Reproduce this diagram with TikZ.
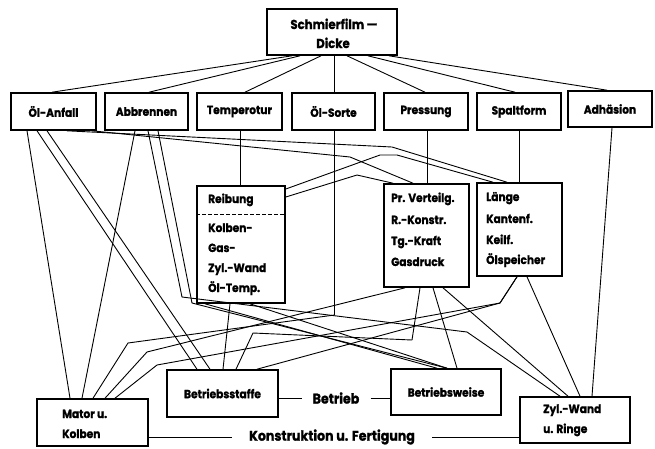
\documentclass[tikz,border=0pt]{standalone}
\usepackage{fontspec}
\setmainfont{Poppins}[FakeStretch=0.9,BoldFeatures={FakeBold=1.2}]
\newcommand\labfont{\bfseries\fontsize{11.8}{13}\selectfont}
\newcommand\topfont{\bfseries\fontsize{13}{14}\selectfont}
\newcommand\bigfont{\bfseries\fontsize{14}{15}\selectfont}
\begin{document}
\begin{tikzpicture}[x=1pt,y=-1pt,
  box/.style={draw,line width=1.6pt,inner sep=0pt,font=\labfont},
  txt/.style={inner sep=0pt,font=\labfont,anchor=base west},
  ctxt/.style={inner sep=0pt,font=\topfont,anchor=base},
  conn/.style={line width=0.9pt,line join=round}]
\useasboundingbox (0,0) rectangle (655,448);
% boxes
\node[box,minimum width=130pt,minimum height=46pt] (top) at (332,32) {};
\node[ctxt] (t1) at (334,29) {Schmierfilm —};
\node[ctxt] (t2) at (333,48) {Dicke};
\node[box,minimum width=85pt,minimum height=37pt] (oel) at (53.5,111.5) {Öl-Anfall};
\node[box,minimum width=83pt,minimum height=37pt] (abb) at (146.5,111.5) {Abbrennen};
\node[box,minimum width=85pt,minimum height=37pt] (temp) at (239.5,111.5) {Temperotur};
\node[box,minimum width=83pt,minimum height=37pt] (sorte) at (333.5,111.5) {Öl-Sorte};
\node[box,minimum width=84pt,minimum height=37pt] (press) at (426,111.5) {Pressung};
\node[box,minimum width=84pt,minimum height=37pt] (spalt) at (519,111.5) {Spaltform};
\node[box,minimum width=84pt,minimum height=36pt] (adh) at (610,109) {Adhäsion};
% middle boxes
\node[box,minimum width=88pt,minimum height=117pt] (reib) at (241,244.5) {};
\draw[line width=1pt,dash pattern=on 3.5pt off 2.5pt] (reib.west |- 0,214) -- (reib.east |- 0,214);
\node[txt] (r1) at (208,203) {Reibung};
\node[txt] (r2) at (208,232) {Kolben-};
\node[txt] (r3) at (208,252) {Gas-};
\node[txt] (r4) at (208,272) {Zyl.-Wand};
\node[txt] (r5) at (208,292) {Öl-Temp.};
\node[box,minimum width=85pt,minimum height=103pt] (pr) at (426.5,235.5) {};
\node[txt] (p1) at (391,202) {Pr. Verteilg.};
\node[txt] (p2) at (391,224) {R.-Konstr.};
\node[txt] (p3) at (391,245) {Tg.-Kraft};
\node[txt] (p4) at (391,266) {Gasdruck};
\node[box,minimum width=85pt,minimum height=93pt] (lae) at (519.5,229.5) {};
\node[txt] (l1) at (486,201) {Länge};
\node[txt] (l2) at (486,223) {Kantenf.};
\node[txt] (l3) at (486,244) {Keilf.};
\node[txt] (l4) at (486,264) {Ölspeicher};
% bottom boxes
\node[box,minimum width=111pt,minimum height=47pt] (bst) at (222.5,393.5) {Betriebsstaffe};
\node[box,minimum width=110pt,minimum height=46pt] (bwe) at (446,392) {Betriebsweise};
\node[box,minimum width=111pt,minimum height=47pt] (mot) at (92.5,422.5) {};
\node[txt] (m1) at (62,418) {Mator u.};
\node[txt] (m2) at (62,438) {Kolben};
\node[box,minimum width=110pt,minimum height=46pt] (zyl) at (575,420) {};
\node[txt] (z1) at (543,413) {Zyl.-Wand};
\node[txt] (z2) at (543,433) {u. Ringe};
\node[inner xsep=11pt,inner ysep=0pt,font=\bigfont] (betr) at (336,398) {Betrieb};
\node[inner xsep=17pt,inner ysep=0pt,font=\bigfont] (kon) at (332,437) {Konstruktion u. Fertigung};
\draw[conn] (betr.west -| bst.east) -- (betr.west);
\draw[conn] (betr.east) -- (betr.east -| bwe.west);
\draw[conn] (kon.west -| mot.east) -- (kon.west);
\draw[conn] (kon.east) -- (kon.east -| zyl.west);
% top fan
\draw[conn] (top.south -| 292,0) -- (oel.north -| 52,0);
\draw[conn] (top.south -| 300,0) -- (abb.north -| 149,0);
\draw[conn] (top.south -| 321,0) -- (temp.north -| 245,0);
\draw[conn] (top.south -| 334,0) -- (sorte.north -| 334,0);
\draw[conn] (top.south -| 347,0) -- (press.north -| 425,0);
\draw[conn] (top.south -| 368,0) -- (spalt.north -| 515,0);
\draw[conn] (top.south -| 389,0) -- (adh.north -| 607,0);
% verticals
\draw[conn] (temp.south -| 240,0) -- (reib.north -| 240,0);
\draw[conn] (press.south -| 427,0) -- (pr.north -| 427,0);
\draw[conn] (spalt.south -| 519,0) -- (lae.north -| 519,0);
\draw[conn] (adh.south -| 612,0) -- (zyl.north -| 592,0);
\draw[conn] (sorte.south -| 334.5,0) -- (334.5,315) -- (128,343) -- (mot.north -| 93,0);
% Oel-Anfall
\draw[conn] (oel.south -| 27,0) -- (mot.north -| 70,0);
\draw[conn] (oel.south -| 37,0) -- (bst.north -| 197,0);
\draw[conn] (oel.south -| 47,0) -- (bst.north -| 210,0);
\draw[conn] (oel.south -| 67,0) -- (392,147) -- (lae.north -| 507,0);
\draw[conn] (oel.south -| 92,0) -- (350,157) -- (pr.north -| 413,0);
% Abbrennen
\draw[conn] (abb.south -| 135,0) -- (mot.north -| 82,0);
\draw[conn] (abb.south -| 148,0) -- (182,297) -- (467,332) -- (zyl.north -| 560,0);
\draw[conn] (abb.south -| 158,0) -- (192,303) -- (bwe.north -| 447,0);
% Reibung
\draw[conn] (reib.east |- 0,189) -- (380,155) -- (397,155) -- (lae.north -| 493,0);
\draw[conn] (reib.east |- 0,197) -- (357,175) -- (pr.north -| 393,0);
\draw[conn] (reib.south -| 230,0) -- (bst.north -| 223,0);
\draw[conn] (reib.south -| 250,0) -- (bwe.north -| 447,0);
\draw[conn] (reib.south -| 205,0) -- (bwe.north -| 437,0);
% Pr. Verteilg.
\draw[conn] (pr.south -| 420,0) -- (412,340) -- (253,333) -- (bst.north -| 236,0);
\draw[conn] (pr.south -| 433,0) -- (bwe.north -| 457,0);
\draw[conn] (pr.south -| 443,0) -- (zyl.north -| 568,0);
\draw[conn] (pr.south -| 405,0) -- (147,352) -- (mot.north -| 105,0);
% Laenge
\draw[conn] (lae.south -| 517,0) -- (500,303) -- (157,365) -- (mot.north -| 115,0);
\draw[conn] (lae.south -| 517,0) -- (500,303) -- (bst.north -| 257,0);
\draw[conn] (lae.south -| 527,0) -- (zyl.north -| 580,0);
\end{tikzpicture}
\end{document}
